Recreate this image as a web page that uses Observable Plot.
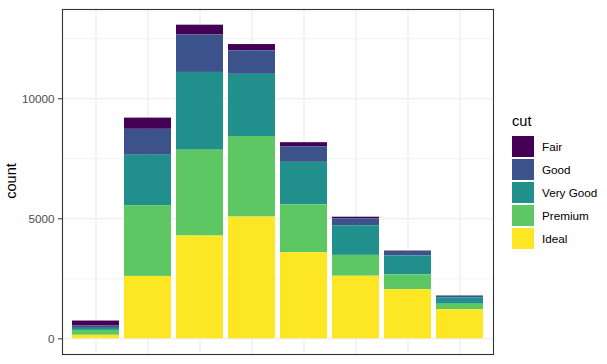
<!DOCTYPE html>
<html><head><meta charset="utf-8">
<script src="https://cdn.jsdelivr.net/npm/d3@7"></script>
<script src="https://cdn.jsdelivr.net/npm/@observablehq/plot@0.6"></script>
<style>
body{margin:0;background:#fff;font-family:Arial,"Liberation Sans",sans-serif;font-weight:normal;}
#wrap{position:relative;width:607px;height:364px;overflow:hidden;}
#wrap svg{position:absolute;left:0;top:0;}
.ylab{position:absolute;left:11px;top:181px;transform:translate(-50%,-50%) rotate(-90deg);font-size:14.6px;font-weight:normal;color:#000;white-space:nowrap;}
.lt{position:absolute;left:512px;top:113px;font-size:14.6px;font-weight:normal;color:#000;}
.lk{position:absolute;left:512px;width:22px;height:21px;}
.ll{position:absolute;left:542px;font-size:11.7px;font-weight:normal;color:#000;line-height:21px;white-space:nowrap;}
</style></head><body>
<div id="wrap"></div>
<script>
const clarity = ["I1","SI2","SI1","VS2","VS1","VVS2","VVS1","IF"];
const cuts = ["Fair","Good","Very Good","Premium","Ideal"];
const cutColors = ["#440154","#3B528B","#21908C","#5DC863","#FDE725"];
const fair     = [210, 466, 408, 261, 170, 69, 17, 9];
const good     = [96, 1081, 1560, 978, 648, 286, 186, 71];
const veryGood = [84, 2100, 3240, 2591, 1775, 1235, 789, 268];
const premium  = [205, 2949, 3575, 3357, 1989, 870, 616, 230];
const ideal    = [146, 2598, 4282, 5071, 3589, 2606, 2047, 1212];
const yTicks = [0, 5000, 10000];
const yMinor = [2500, 7500, 12500];

const series = [fair, good, veryGood, premium, ideal];
const rows = [];
cuts.forEach((c, i) => clarity.forEach((k, j) => rows.push({clarity: k, cut: c, count: series[i][j]})));
const totals = clarity.map((k, j) => d3.sum(series, s => s[j]));
const maxT = d3.max(totals);
const pad = maxT * 0.05;

const plot = Plot.plot({
  width: 500, height: 364,
  marginLeft: 62, marginRight: 7, marginTop: 9, marginBottom: 10,
  style: {fontFamily: 'Arial,"Liberation Sans",sans-serif', fontSize: "11.7px", background: "transparent"},
  x: {domain: clarity, paddingInner: 0.1, paddingOuter: 0.15, axis: null},
  y: {domain: [-pad, maxT + pad], axis: null},
  color: {domain: cuts, range: cutColors},
  marks: [
    Plot.ruleY(yMinor, {stroke: "#EBEBEB", strokeWidth: 0.6}),
    Plot.ruleY(yTicks, {stroke: "#EBEBEB", strokeWidth: 1.1}),
    Plot.ruleX(clarity, {x: d => d, stroke: "#EBEBEB", strokeWidth: 1.1}),
    Plot.barY(rows, Plot.stackY({order: [...cuts].reverse()}, {x: "clarity", y: "count", fill: "cut"})),
    Plot.axisY(yTicks, {tickSize: 4, tickPadding: 4, stroke: "#333333", fill: "#4D4D4D", label: null, fontSize: "11.7px", tickFormat: d => String(d)}),
    Plot.frame({stroke: "#333333", strokeWidth: 1.1})
  ]
});
const wrap = document.getElementById("wrap");
wrap.appendChild(plot);

const yl = document.createElement("div");
yl.className = "ylab"; yl.textContent = "count";
wrap.appendChild(yl);

const lt = document.createElement("div");
lt.className = "lt"; lt.textContent = "cut";
wrap.appendChild(lt);
cuts.forEach((c, i) => {
  const k = document.createElement("div");
  k.className = "lk"; k.style.top = (136 + 23 * i) + "px"; k.style.background = cutColors[i];
  wrap.appendChild(k);
  const l = document.createElement("div");
  l.className = "ll"; l.style.top = (136 + 23 * i) + "px"; l.textContent = c;
  wrap.appendChild(l);
});
</script>
</body></html>
